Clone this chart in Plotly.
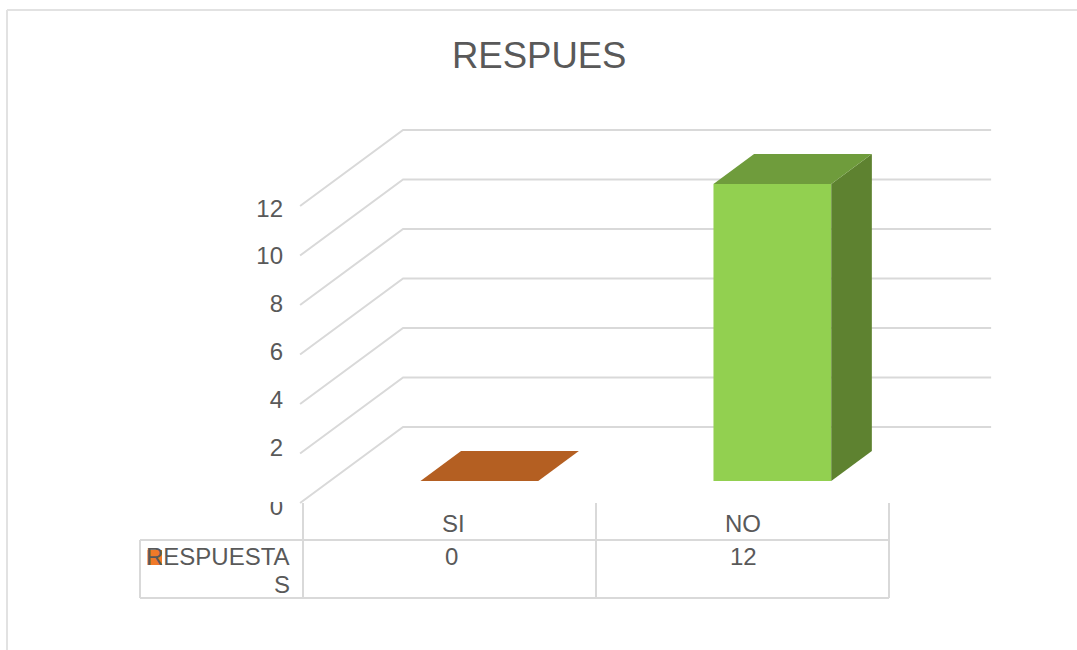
import plotly.graph_objects as go

# ---- data ----
title = "RESPUES"
categories = ["SI", "NO"]
values = [0, 12]
series_label = ["RESPUESTA", "S"]
axis_ticks = [0, 2, 4, 6, 8, 10, 12]
bar_front_colors = ["#b45f22", "#92d050"]
bar_top_colors = ["#b45f22", "#6f9c3c"]
bar_side_colors = ["#8a4a1a", "#5e8230"]

# ---- geometry of the oblique projection ----
W, H = 1077, 650
PX_X0, PX_PER_CAT = 303, 293      # pixel of category 0 edge, pixels per category
PX_Y0, PX_PER_VAL = 503, 24.75    # pixel of value 0 on front plane, pixels per unit
DEPTH_DX, DEPTH_DY = 103, 76      # pixel shift from front plane to back wall
BAR_W = 0.402
BAR_D0, BAR_D1 = 0.29, 0.684
GRID = "#d9d9d9"
TEXT = "#595959"
FONT = "Liberation Sans"


def proj(x, v, d):
    """Category/value/depth to the flat axes."""
    return x + d * DEPTH_DX / PX_PER_CAT, v + d * DEPTH_DY / PX_PER_VAL


def ax_x(px):
    return (px - PX_X0) / PX_PER_CAT


def ax_y(py):
    return (PX_Y0 - py) / PX_PER_VAL


def poly(points, color):
    xs, ys = zip(*points)
    return go.Scatter(x=list(xs) + [xs[0]], y=list(ys) + [ys[0]], mode="lines", fill="toself",
                      fillcolor=color, line=dict(width=0, color=color), hoverinfo="skip", showlegend=False)


fig = go.Figure()

# gridlines: left wall and back wall
x_left, x_right = -0.01, len(categories) - 0.003
for t in axis_ticks:
    p0 = proj(x_left, t, 0)
    p1 = proj(x_left, t, 1)
    p2 = proj(x_right, t, 1)
    fig.add_trace(go.Scatter(x=[p0[0], p1[0], p2[0]], y=[p0[1], p1[1], p2[1]], mode="lines",
                             line=dict(color=GRID, width=2), hoverinfo="skip", showlegend=False))

# bars
for i, (v, cf, ct, cs) in enumerate(zip(values, bar_front_colors, bar_top_colors, bar_side_colors)):
    xa, xb = i + 0.5 - BAR_W / 2, i + 0.5 + BAR_W / 2
    fig.add_trace(poly([proj(xa, 0, BAR_D0), proj(xb, 0, BAR_D0), proj(xb, v, BAR_D0), proj(xa, v, BAR_D0)], cf))
    fig.add_trace(poly([proj(xb, 0, BAR_D0), proj(xb, 0, BAR_D1), proj(xb, v, BAR_D1), proj(xb, v, BAR_D0)], cs))
    fig.add_trace(poly([proj(xa, v, BAR_D0), proj(xb, v, BAR_D0), proj(xb, v, BAR_D1), proj(xa, v, BAR_D1)], ct))


# value-axis labels (their baseline spacing differs from the walls in the source)
def label_py(t):
    return 509 if t == 0 else 210.5 + (12 - t) * 23.9


fig.add_trace(go.Scatter(x=[ax_x(283)] * len(axis_ticks), y=[ax_y(label_py(t)) for t in axis_ticks],
                         text=[str(t) for t in axis_ticks], mode="text", textposition="middle left",
                         textfont=dict(family=FONT, size=24, color=TEXT), hoverinfo="skip", showlegend=False))


def line(x0, y0, x1, y1, color=GRID, width=2):
    return dict(type="line", xref="paper", yref="paper", x0=x0 / W, x1=x1 / W, y0=1 - y0 / H, y1=1 - y1 / H,
                line=dict(color=color, width=width), layer="below")


shapes = [
    line(7, 10, W, 10, "#e2e2e2", 2),
    line(7, 10, 7, H, "#e2e2e2", 2),
    line(140, 540, 889, 540),
    line(140, 598, 889, 598),
    line(140, 540, 140, 598),
    line(303, 503, 303, 598),
    line(596, 503, 596, 598),
    line(889, 503, 889, 598),
    # legend key
    dict(type="rect", xref="paper", yref="paper", x0=147.5 / W, x1=162 / W, y0=1 - 550 / H, y1=1 - 565 / H,
         fillcolor="#f07a28", line=dict(width=0), layer="below"),
    # the source crops the top of the lowest axis label
    dict(type="rect", xref="paper", yref="paper", x0=260 / W, x1=292 / W, y0=1 - 482 / H, y1=1 - 502 / H,
         fillcolor="white", line=dict(width=0), layer="above"),
]


def note(px, py, text, anchor="center", size=24):
    return dict(xref="paper", yref="paper", x=px / W, y=1 - py / H, text=text, showarrow=False, xanchor=anchor,
                yanchor="middle", font=dict(family=FONT, size=size, color=TEXT))


annotations = [note(538.5, 55, title, size=36.5)]
category_nudge = [3.5, 0]
value_nudge = [1.5, 1]
for i, (c, v) in enumerate(zip(categories, values)):
    cx = PX_X0 + PX_PER_CAT * (i + 0.5)
    annotations.append(note(cx + category_nudge[i], 523, c))
    annotations.append(note(cx + value_nudge[i], 556.5, str(v)))
annotations.append(note(291.5, 556.5, series_label[0], "right"))
annotations.append(note(291.5, 584.5, series_label[1], "right"))

fig.update_layout(
    width=W, height=H, margin=dict(l=0, r=0, t=0, b=0), showlegend=False,
    plot_bgcolor="white", paper_bgcolor="white",
    xaxis=dict(range=[ax_x(0), ax_x(W)], visible=False, fixedrange=True),
    yaxis=dict(range=[ax_y(H), ax_y(0)], visible=False, fixedrange=True),
    shapes=shapes, annotations=annotations,
)

fig.write_html("out.html", config={"displayModeBar": False},
               post_script="document.body.style.margin='0';document.body.style.overflow='hidden';")
